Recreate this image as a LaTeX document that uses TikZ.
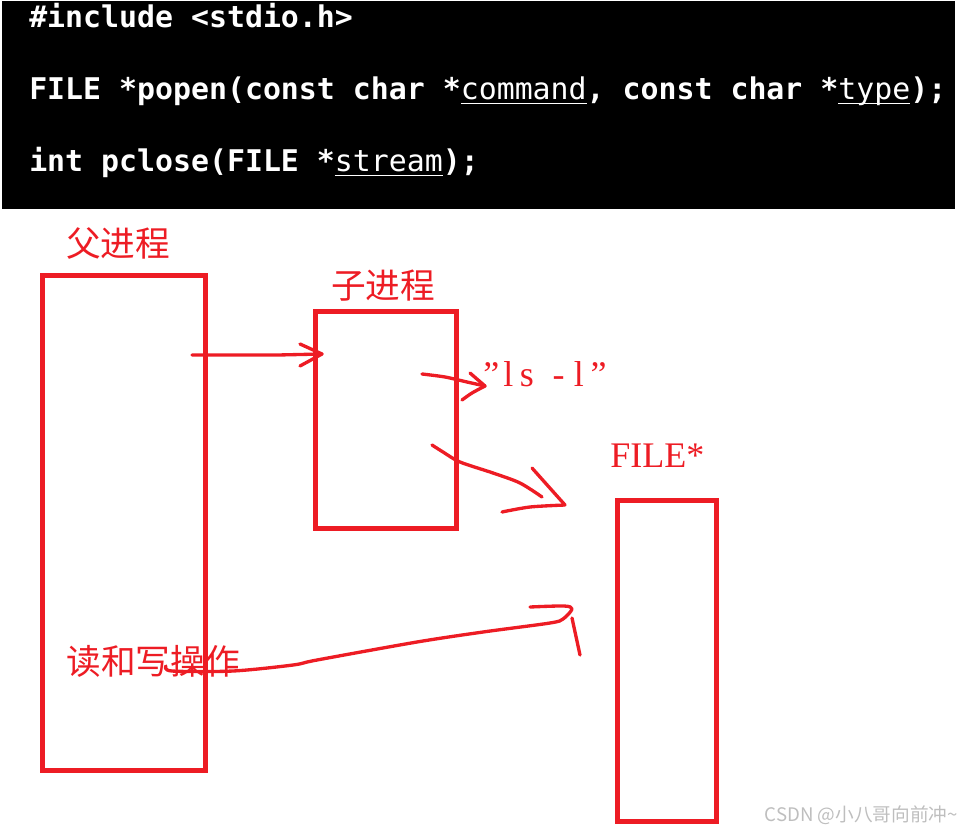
\documentclass[tikz,border=0pt]{standalone}
\usepackage{fontspec}
\setmainfont{Liberation Serif}
\newfontfamily\codefont{DejaVu Sans Mono}
\newfontfamily\cjk{Noto Sans CJK SC}
\usetikzlibrary{positioning}
\definecolor{penred}{RGB}{237,28,36}
\definecolor{markgray}{RGB}{190,190,190}
% underlined argument of the man page
\newcommand{\manarg}[1]{\setbox0\hbox{\mdseries #1}\rlap{\rule[-3pt]{\wd0}{1pt}}\box0}

\begin{document}
\begin{tikzpicture}[x=0.75pt,y=-0.75pt,
  box/.style={draw=penred, line width=3.75pt, inner sep=0pt},
  code/.style={anchor=base west, inner sep=0pt, text=white, font=\codefont\bfseries\fontsize{22.4}{26}\selectfont},
  zh/.style={text=penred, inner sep=0pt, font=\cjk\fontsize{26}{30}\selectfont},
  en/.style={text=penred, inner sep=0pt, anchor=base west, font=\fontsize{27}{30}\selectfont},
  pen/.style={draw=penred, line width=2.5pt, line cap=round, line join=round}]
\useasboundingbox (0,0) rectangle (962,834);

% man page
\fill[black] (2,1) rectangle (955,209);
\node[code] (inc) at (29,28) {\#include <stdio.h>};
\node[code] (popen) at (29,100) {FILE *popen(const char *\manarg{command}, const char *\manarg{type});};
\node[code] (pclose) at (29,172) {int pclose(FILE *\manarg{stream});};

% processes
\node[box, minimum width=122.25pt, minimum height=370.9pt] (parent) at (124,522.75) {};
\node[box, minimum width=105.75pt, minimum height=162.75pt] (child) at (385.5,419.5) {};
\node[box, minimum width=74.25pt, minimum height=240.75pt] (file) at (666.5,660.5) {};

\node[zh] (plabel) at (118,243) {父进程};
\node[zh] (clabel) at (383,286) {子进程};
\node[en] (cmd) at (483,386) {”\kern3pt l\kern5pt s\kern14pt -\kern7pt l\kern5pt”};
\node[en] (flabel) at (610,467) {FILE*};
\node[zh] (rw) at (153,661) {读和写操作};

% hand drawn arrows
\coordinate (a1s) at (192,355);
\coordinate (a1e) at (322,354);
\draw[pen] (a1s) -- (278,355) -- (a1e);
\draw[pen] (300,344) -- (a1e) -- (300,366);

\coordinate (a2s) at (422,374);
\coordinate (a2e) at (485,386);
\draw[pen] plot[smooth, tension=0.5] coordinates {(a2s) (445,377) (467,382) (a2e)};
\draw[pen] (470,373) -- (a2e);
\draw[pen] plot[smooth, tension=0.5] coordinates {(462,400) (472,393) (a2e)};

\coordinate (a3s) at (432,445);
\coordinate (a3e) at (565,505);
\draw[pen] plot[smooth, tension=0.5] coordinates {(a3s) (443,452) (460,462) (493,473) (520,483) (542,497)};
\draw[pen] (532,468) -- (a3e);
\draw[pen] plot[smooth, tension=0.5] coordinates {(502,512) (530,507) (a3e)};

\coordinate (a4s) at (166,666);
\coordinate (a4e) at (572,609);
\draw[pen] plot[smooth, tension=0.5] coordinates {(a4s) (172,671) (233,671) (293,665) (317,660) (417,642) (483,632) (550,623) (563,619) (a4e) (564,606) (530,607)};
\draw[pen] (572,618) -- (580,655);

\node[text=markgray, anchor=east, inner sep=0pt, font=\cjk\fontsize{14}{16}\selectfont] (mark) at (958,815) {CSDN @小八哥向前冲\textasciitilde};
\end{tikzpicture}
\end{document}
